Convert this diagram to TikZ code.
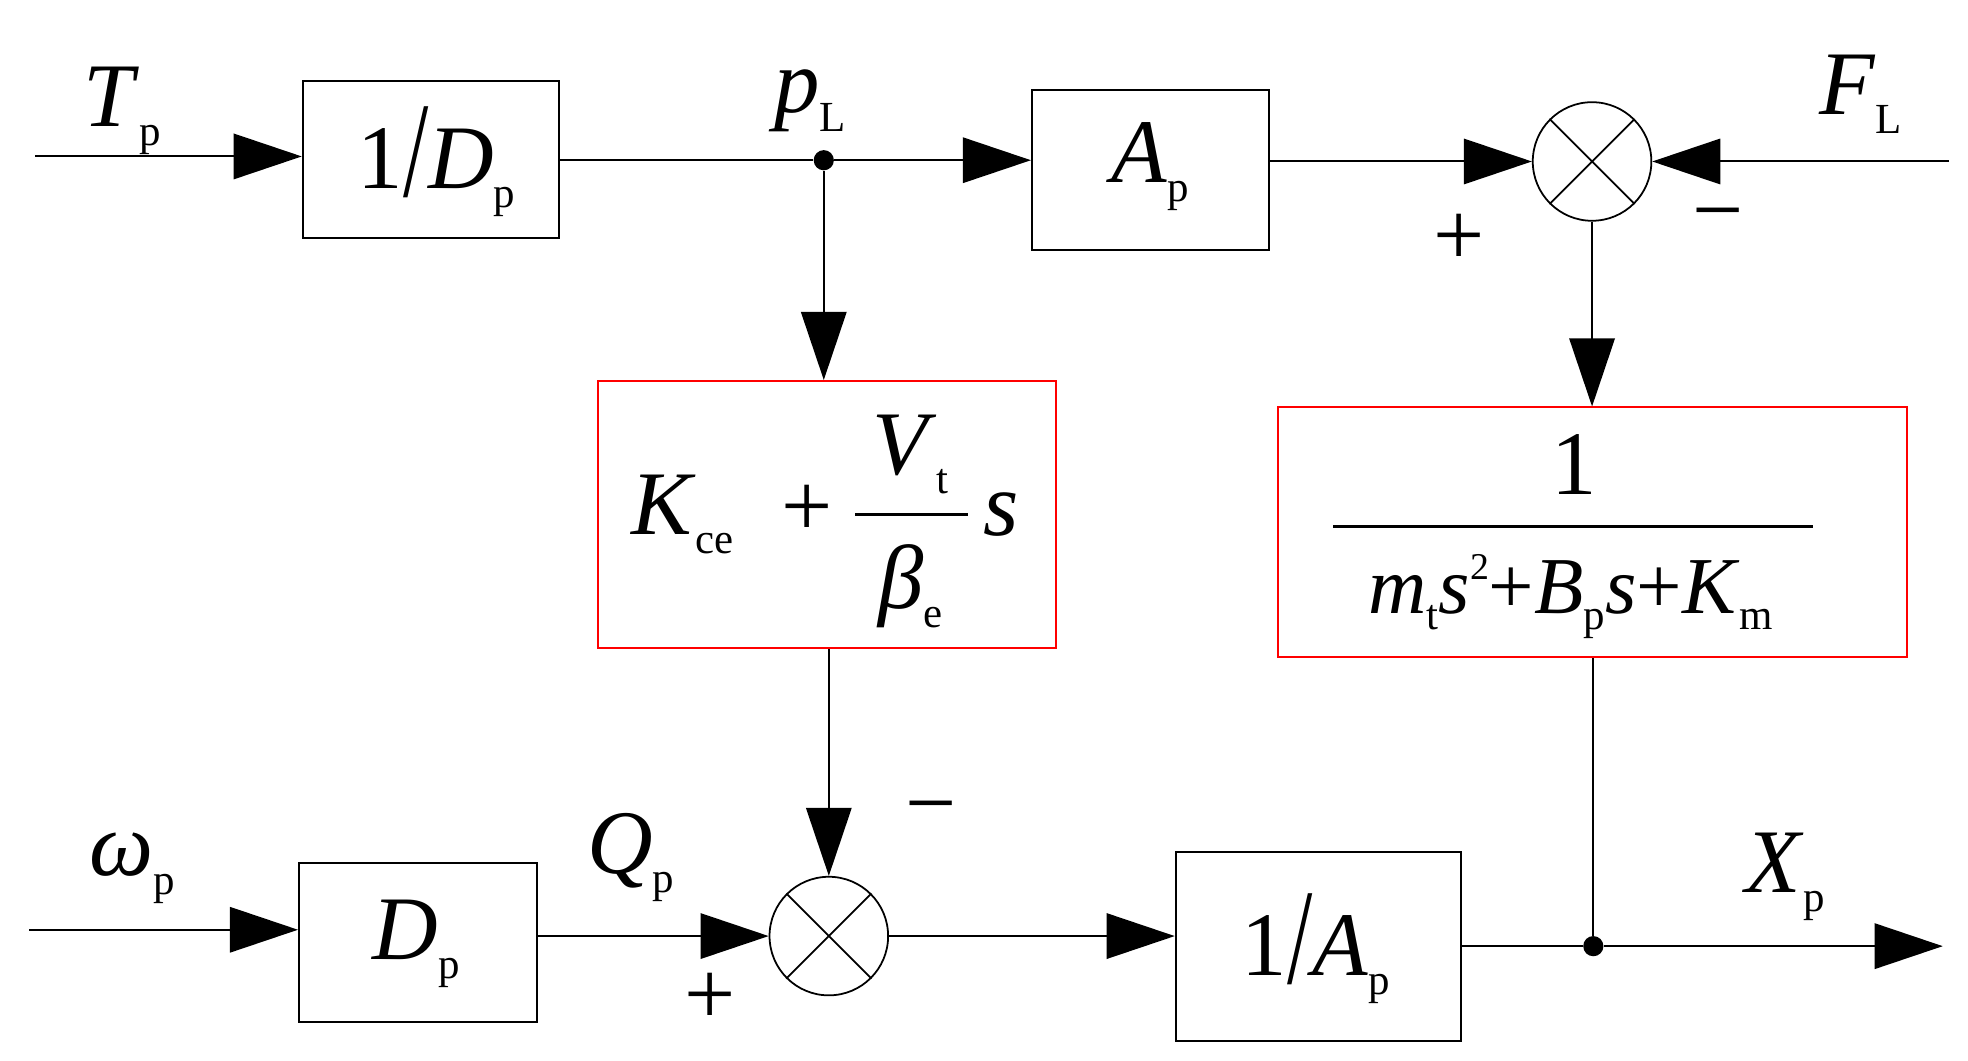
\documentclass[tikz,border=0pt]{standalone}
\usepackage{fontspec}
\setmainfont{Liberation Serif}
\usetikzlibrary{arrows.meta}
\newcommand{\lo}[1]{\raisebox{-0.45ex}{\fontsize{17}{20}\selectfont #1}}
\newcommand{\hi}[1]{\raisebox{0.9ex}{\fontsize{15}{18}\selectfont #1}}
\begin{document}
\begin{tikzpicture}[x=0.5pt,y=-0.5pt,
  blk/.style={draw,line width=0.8pt,inner sep=0pt},
  red/.style={draw=red,line width=0.8pt,inner sep=0pt},
  sum/.style={draw,circle,minimum size=47pt,inner sep=0pt,line width=0.7pt},
  txt/.style={font=\fontsize{24}{28}\selectfont,inner sep=0pt},
  sg/.style={font=\fontsize{36}{38}\selectfont,inner sep=0pt},
  arr/.style={-{Triangle[length=27pt,width=18pt]},line width=0.8pt},
  ln/.style={line width=0.8pt},
  dot/.style={circle,fill,inner sep=0pt,minimum size=8pt}]
\useasboundingbox (0,0) rectangle (1560,841);
% nodes
\node[blk,minimum width=101.5pt,minimum height=62.5pt] (b1) at (341.5,126.5) {};
\node[txt] at (346,128) {\fontsize{36}{40}\selectfont 1\raisebox{-0.2ex}{\scalebox{1}[1.5]{/}}\textit{D}\lo{p}};
\node[blk,minimum width=94pt,minimum height=63.5pt] (b2) at (912,134.5) {};
\node[txt] at (912,132) {\fontsize{36}{40}\selectfont\textit{A}\lo{p}};
\node[sum] (s1) at (1262,128) {};
\draw[line width=0.7pt] (s1.45)--(s1.225) (s1.135)--(s1.315);
\node[red,minimum width=181.5pt,minimum height=106pt] (r1) at (655.5,408) {};
\node[txt,anchor=west] at (500,408) {\fontsize{36}{40}\selectfont\textit{K}\lo{ce}};
\node[txt] at (640,405) {\fontsize{36}{40}\selectfont +};
\draw[line width=1.2pt] (678,408)--(767,408);
\node[txt] at (722,360) {\fontsize{36}{40}\selectfont\textit{V}\lo{t}};
\node[txt] at (722,465) {\fontsize{36}{40}\selectfont\textit{β}\lo{e}};
\node[txt] at (794,408) {\fontsize{36}{40}\selectfont\textit{s}};
\node[red,minimum width=249.5pt,minimum height=99pt] (r2) at (1262.5,422) {};
\draw[line width=1.2pt] (1057,417)--(1437,417);
\node[txt] at (1248,368) {\fontsize{36}{40}\selectfont 1};
\node[txt] at (1245,473) {\fontsize{32}{36}\selectfont\textit{m}\lo{t}\textit{s}\hi{2}+\textit{B}\lo{p}\textit{s}+\textit{K}\lo{m}};
\node[blk,minimum width=94.5pt,minimum height=63pt] (b3) at (331.5,747) {};
\node[txt] at (330,748) {\fontsize{36}{40}\selectfont\textit{D}\lo{p}};
\node[sum] (s2) at (657,742) {};
\draw[line width=0.7pt] (s2.45)--(s2.225) (s2.135)--(s2.315);
\node[blk,minimum width=113pt,minimum height=75pt] (b4) at (1045,750) {};
\node[txt] at (1043,752) {\fontsize{36}{40}\selectfont 1\raisebox{-0.2ex}{\scalebox{1}[1.5]{/}}\textit{A}\lo{p}};
\node[dot] (d1) at (653,127) {};
\node[dot] (d2) at (1263,750) {};
\coordinate (tin) at (28,124);
\coordinate (fin) at (1545,128);
\coordinate (win) at (23,737);
\coordinate (xout) at (1540,750);
% labels
\node[txt] at (97,88) {\fontsize{36}{40}\selectfont\textit{T}\lo{p}};
\node[txt] at (642,80) {\fontsize{36}{40}\selectfont\textit{p}\lo{L}};
\node[txt] at (1475,75) {\fontsize{36}{40}\selectfont\textit{F}\lo{L}};
\node[txt] at (105,688) {\fontsize{36}{40}\selectfont\textit{ω}\lo{p}};
\node[txt] at (500,680) {\fontsize{36}{40}\selectfont\textit{Q}\lo{p}};
\node[txt] at (1415,695) {\fontsize{36}{40}\selectfont\textit{X}\lo{p}};
\node[sg] at (1157,190) {+};
\node[sg] at (1362,178) {−};
\node[sg] at (738,648) {−};
\node[sg] at (563,792) {+};
% connectors
\draw[arr] (tin) -- (b1.west|-tin);
\draw[ln] (b1.east|-d1) -- (d1);
\draw[arr] (d1) -- (b2.west|-d1);
\draw[arr] (b2.east|-s1) -- (s1.west);
\draw[arr] (fin) -- (s1.east);
\draw[arr] (s1.south) -- (r2.north-|s1);
\draw[arr] (d1) -- (r1.north-|d1);
\draw[arr] (r1.south-|s2) -- (s2.north);
\draw[arr] (win) -- (b3.west|-win);
\draw[arr] (b3.east|-s2) -- (s2.west);
\draw[arr] (s2.east) -- (b4.west|-s2);
\draw[ln] (b4.east|-d2) -- (d2);
\draw[arr] (d2) -- (xout);
\draw[ln] (r2.south-|d2) -- (d2);
\end{tikzpicture}
\end{document}
